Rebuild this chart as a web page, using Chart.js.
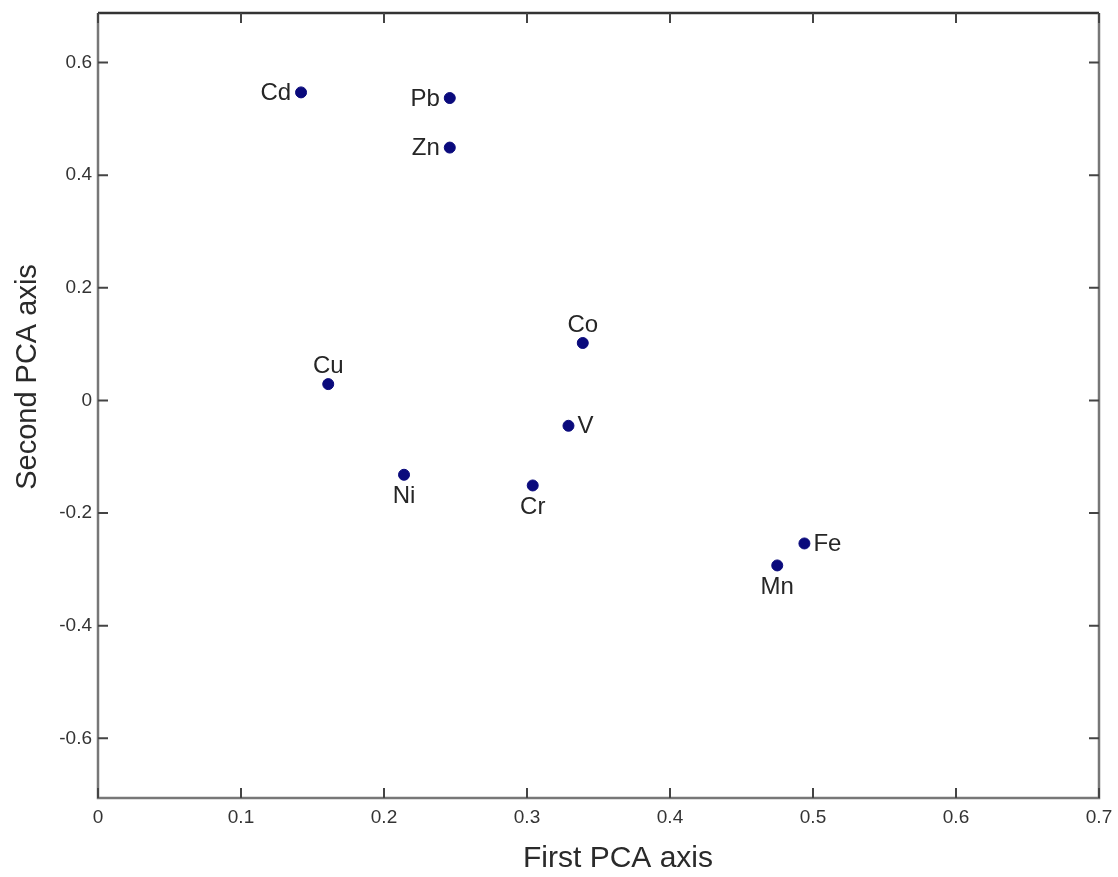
<!DOCTYPE html>
<html>
<head>
<meta charset="utf-8">
<title>PCA loadings</title>
<script src="https://cdn.jsdelivr.net/npm/chart.js@4.4.1/dist/chart.umd.min.js"></script>
<style>
  html, body { margin: 0; padding: 0; background: #fff; }
  #wrap { width: 1118px; height: 877px; }
</style>
</head>
<body>
<div id="wrap"><canvas id="myChart" width="1118" height="877"></canvas></div>
<script>
// elements and their loadings
const elements = ["Cd", "Pb", "Zn", "Co", "Cu", "V", "Ni", "Cr", "Fe", "Mn"];
const firstAxis = [0.142, 0.246, 0.246, 0.339, 0.161, 0.329, 0.214, 0.304, 0.494, 0.475];
const secondAxis = [0.547, 0.537, 0.449, 0.102, 0.029, -0.045, -0.132, -0.151, -0.254, -0.293];

// tick labels
const xTicks = [0, 0.1, 0.2, 0.3, 0.4, 0.5, 0.6, 0.7];
const yTicks = [-0.6, -0.4, -0.2, 0, 0.2, 0.4, 0.6];

// where each label sits relative to its point
const labelSide = ["left", "left", "left", "above", "above", "right", "below", "below", "right", "below"];

const FONT = "'Liberation Sans', Arial, sans-serif";

const points = elements.map((e, i) => ({ x: firstAxis[i], y: secondAxis[i] }));

function fmt(v) {
    return String(Math.round(v * 10) / 10);
}

// frame with inward ticks on all four sides, like the matlab plot
const framePlugin = {
    id: "frame",
    afterDraw(chart) {
        const ctx = chart.ctx;
        const a = chart.chartArea;
        const xs = chart.scales.x, ys = chart.scales.y;
        const tl = 10;
        ctx.save();
        ctx.lineWidth = 2.5;
        ctx.strokeStyle = "#333";
        ctx.beginPath();
        ctx.moveTo(a.left, a.top); ctx.lineTo(a.right, a.top);
        ctx.stroke();
        ctx.strokeStyle = "#777";
        ctx.beginPath();
        ctx.moveTo(a.right, a.top); ctx.lineTo(a.right, a.bottom);
        ctx.lineTo(a.left, a.bottom); ctx.lineTo(a.left, a.top);
        ctx.stroke();

        ctx.lineWidth = 2;
        ctx.strokeStyle = "#444";
        xTicks.forEach(v => {
            const px = xs.getPixelForValue(v);
            ctx.beginPath();
            ctx.moveTo(px, a.bottom); ctx.lineTo(px, a.bottom - tl);
            ctx.moveTo(px, a.top); ctx.lineTo(px, a.top + tl);
            ctx.stroke();
        });
        yTicks.forEach(v => {
            const py = ys.getPixelForValue(v);
            ctx.beginPath();
            ctx.moveTo(a.left, py); ctx.lineTo(a.left + tl, py);
            ctx.moveTo(a.right, py); ctx.lineTo(a.right - tl, py);
            ctx.stroke();
        });

        // axis titles (sit a bit off-centre in the original)
        ctx.fillStyle = "#2a2a2a";
        ctx.font = "30px " + FONT;
        ctx.textAlign = "center";
        ctx.textBaseline = "alphabetic";
        ctx.fillText("First PCA axis", 618, 867);
        ctx.translate(36, 377);
        ctx.rotate(-Math.PI / 2);
        ctx.font = "29px " + FONT;
        ctx.fillText("Second PCA axis", 0, 0);
        ctx.restore();
    }
};

// element names next to the dots
const labelPlugin = {
    id: "pointLabels",
    afterDatasetsDraw(chart) {
        const ctx = chart.ctx;
        const meta = chart.getDatasetMeta(0);
        ctx.save();
        ctx.font = "24px " + FONT;
        ctx.fillStyle = "#262626";
        ctx.textBaseline = "middle";
        meta.data.forEach((pt, i) => {
            const side = labelSide[i];
            let x = pt.x, y = pt.y;
            if (side === "left") { ctx.textAlign = "right"; x -= 10; }
            else if (side === "right") { ctx.textAlign = "left"; x += 9; }
            else if (side === "above") { ctx.textAlign = "center"; y -= 19; }
            else { ctx.textAlign = "center"; y += 21; }
            ctx.fillText(elements[i], x, y + 1);
        });
        ctx.restore();
    }
};

const ctx = document.getElementById("myChart").getContext("2d");

const myChart = new Chart(ctx, {
    type: "scatter",
    data: {
        datasets: [{
            data: points,
            backgroundColor: "#0a0a7c",
            borderColor: "#0a0a7c",
            pointRadius: 5.5,
            pointHoverRadius: 5.5
        }]
    },
    options: {
        responsive: false,
        animation: false,
        layout: { padding: { top: 13, right: 19, left: 0, bottom: 0 } },
        plugins: {
            legend: { display: false },
            tooltip: { enabled: false }
        },
        scales: {
            x: {
                type: "linear",
                min: 0,
                max: 0.7,
                grid: { display: false, drawTicks: false },
                border: { display: false },
                afterBuildTicks: scale => { scale.ticks = xTicks.map(v => ({ value: v })); },
                afterFit: scale => {
                    scale.height = 79;
                    scale.paddingLeft = 0;
                    scale.paddingRight = 0;
                },
                ticks: {
                    padding: 8,
                    color: "#333",
                    font: { family: FONT, size: 19 },
                    callback: v => fmt(v),
                    maxRotation: 0
                }
            },
            y: {
                type: "linear",
                min: -0.706,
                max: 0.688,
                grid: { display: false, drawTicks: false },
                border: { display: false },
                afterBuildTicks: scale => { scale.ticks = yTicks.map(v => ({ value: v })); },
                afterFit: scale => {
                    scale.width = 98;
                    scale.paddingTop = 0;
                    scale.paddingBottom = 0;
                },
                ticks: {
                    padding: 6,
                    color: "#333",
                    font: { family: FONT, size: 19 },
                    callback: v => fmt(v)
                }
            }
        }
    },
    plugins: [framePlugin, labelPlugin]
});
</script>
</body>
</html>
